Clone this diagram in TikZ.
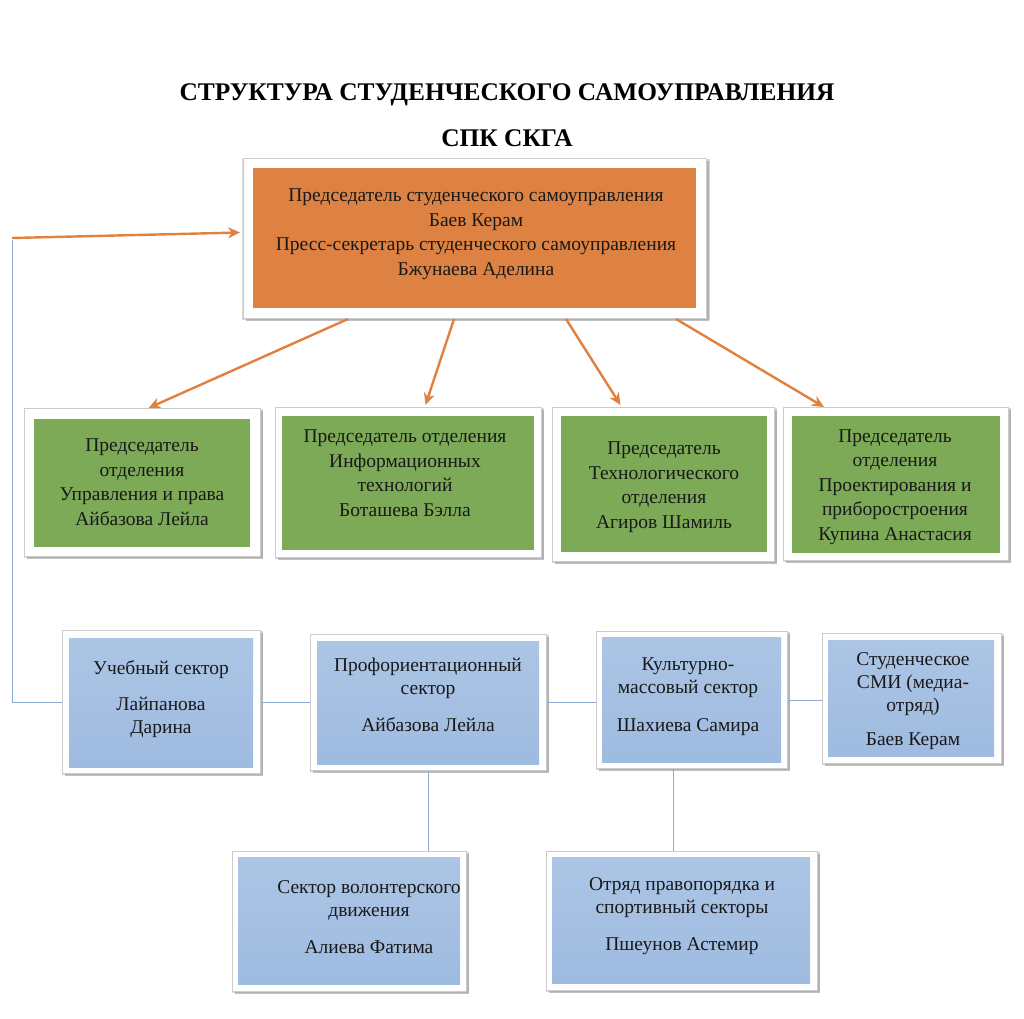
\documentclass[tikz,border=0pt]{standalone}
\usepackage{fontspec}
\setmainfont{Liberation Serif}
\usetikzlibrary{arrows.meta,shadows}
\definecolor{orfill}{RGB}{222,130,68}
\definecolor{orline}{RGB}{226,128,62}
\definecolor{grfill}{RGB}{125,170,87}
\definecolor{bltop}{RGB}{172,197,229}
\definecolor{blbot}{RGB}{158,187,224}
\definecolor{blline}{RGB}{140,172,212}
\definecolor{txt}{RGB}{25,25,25}
\begin{document}
\begin{tikzpicture}[x=1pt,y=-1pt,
  frame/.style={draw=gray!40, line width=1pt, fill=white, anchor=north west, inner sep=0pt,
    general shadow={shadow xshift=1pt, shadow yshift=-1pt, shadow scale=1.012, fill=gray!60, opacity=0.5},
    drop shadow={shadow xshift=2.2pt, shadow yshift=-2.2pt, fill=gray!80, opacity=0.6}},
  orbox/.style={fill=orfill, anchor=north west, inner sep=0pt},
  grbox/.style={fill=grfill, anchor=north west, inner sep=0pt},
  blbox/.style={top color=bltop, bottom color=blbot, anchor=north west, inner sep=0pt},
  lbl/.style={text=txt, align=center, inner sep=0pt, font=\fontsize{19.5}{24.5}\selectfont},
  lblb/.style={text=txt, align=center, inner sep=0pt, font=\fontsize{19.5}{23}\selectfont},
  orarrow/.style={draw=orline, line width=2.4pt, -{Stealth[length=12pt,width=11pt]}},
  blconn/.style={draw=blline, line width=0.9pt}
]
\useasboundingbox[fill=white] (0,0) rectangle (1024,1018);

% title
\node[text=black, align=center, inner sep=0pt, font=\fontsize{25.4}{24}\selectfont\bfseries] (title) at (507,115)
  {СТРУКТУРА СТУДЕНЧЕСКОГО САМОУПРАВЛЕНИЯ\\[22pt]СПК СКГА};

% top box
\node[frame, minimum width=463pt, minimum height=160pt] (top) at (243,158) {};
\node[orbox, minimum width=443pt, minimum height=140pt] (topi) at (253,168) {};
\node[lbl] (topt) at (476,234) {Председатель студенческого самоуправления\\Баев Керам\\Пресс-секретарь студенческого самоуправления\\Бжунаева Аделина};

% green row
\node[frame, minimum width=236pt, minimum height=148pt] (g1) at (24,408) {};
\node[grbox, minimum width=216pt, minimum height=128pt] (g1i) at (34,419) {};
\node[lbl] (g1t) at (142,482) {Председатель\\отделения\\Управления и права\\Айбазова Лейла};

\node[frame, minimum width=266pt, minimum height=150pt] (g2) at (275,407) {};
\node[grbox, minimum width=252pt, minimum height=134pt] (g2i) at (282,416) {};
\node[lbl] (g2t) at (405,473) {Председатель отделения\\Информационных\\технологий\\Боташева Бэлла};

\node[frame, minimum width=222pt, minimum height=154pt] (g3) at (552,407) {};
\node[grbox, minimum width=206pt, minimum height=136pt] (g3i) at (561,416) {};
\node[lbl] (g3t) at (664,487) {Председатель\\Технологического\\отделения\\Агиров Шамиль};

\node[frame, minimum width=225pt, minimum height=153pt] (g4) at (783,407) {};
\node[grbox, minimum width=208pt, minimum height=137pt] (g4i) at (792,416) {};
\node[lbl] (g4t) at (895,487) {Председатель\\отделения\\Проектирования и\\приборостроения\\Купина Анастасия};

% blue row
\node[frame, minimum width=198pt, minimum height=143pt] (b1) at (62,630) {};
\node[blbox, minimum width=184pt, minimum height=129pt] (b1i) at (69,638) {};
\node[lblb] (b1t) at (161,699) {Учебный сектор\\[13pt]Лайпанова\\Дарина};

\node[frame, minimum width=236pt, minimum height=136pt] (b2) at (310,634) {};
\node[blbox, minimum width=222pt, minimum height=123pt] (b2i) at (317,641) {};
\node[lblb] (b2t) at (428,695) {Профориентационный\\сектор\\[14pt]Айбазова Лейла};

\node[frame, minimum width=191pt, minimum height=137pt] (b3) at (596,631) {};
\node[blbox, minimum width=179pt, minimum height=125pt] (b3i) at (602,637) {};
\node[lblb] (b3t) at (688,697) {Культурно-\\массовый сектор\\[15pt]Шахиева Самира};

\node[frame, minimum width=179pt, minimum height=130pt] (b4) at (822,633) {};
\node[blbox, minimum width=166pt, minimum height=116pt] (b4i) at (828,640) {};
\node[lblb] (b4t) at (913,701) {Студенческое\\СМИ (медиа-\\отряд)\\[11pt]Баев Керам};

% bottom row
\node[frame, minimum width=234pt, minimum height=140pt] (c1) at (232,851) {};
\node[blbox, minimum width=222pt, minimum height=127pt] (c1i) at (238,857) {};
\node[lblb] (c1t) at (369,917) {Сектор волонтерского\\движения\\[14pt]Алиева Фатима};

\node[frame, minimum width=271pt, minimum height=139pt] (c2) at (546,851) {};
\node[blbox, minimum width=258pt, minimum height=126pt] (c2i) at (552,857) {};
\node[lblb] (c2t) at (682,916) {Отряд правопорядка и\\спортивный секторы\\[14pt]Пшеунов Астемир};

% orange arrows
\draw[orarrow] ([xshift=105pt]top.south west) -- ([xshift=6pt]g1.north);
\draw[orarrow] ([xshift=211pt]top.south west) -- ([xshift=17pt,yshift=2pt]g2.north);
\draw[orarrow] ([xshift=323pt]top.south west) -- ([xshift=-43pt,yshift=2pt]g3.north);
\draw[orarrow] ([xshift=433pt]top.south west) -- ([xshift=-72pt]g4.north);

\coordinate (Lstart) at (12,238);
\coordinate (Ltop) at (12,240);
\draw[orarrow] (Lstart) -- ([xshift=-3pt,yshift=6pt]top.west);

% blue connectors
\draw[blconn] (Ltop) |- (b1.west);
\draw[blconn] (b1.east) -- (b1.east -| b2.west);
\draw[blconn] (b2.east) -- (b2.east -| b3.west);
\draw[blconn] (b3.east) -- (b3.east -| b4.west);
\draw[blconn] (b2.south) -- (b2.south |- c1.north);
\draw[blconn] ([xshift=-18.5pt]b3.south) -- ([xshift=-18.5pt]b3.south |- c2.north);
\end{tikzpicture}
\end{document}
